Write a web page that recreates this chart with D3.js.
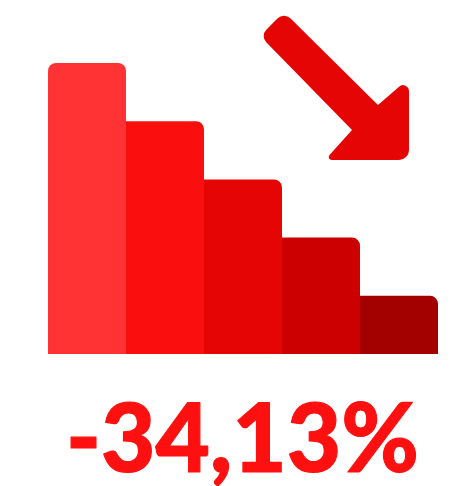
<!DOCTYPE html>
<html lang="pt">
<head>
  <meta charset="UTF-8">
  <title>-34,13%</title>
  <script src="https://d3js.org/d3.v7.min.js"></script>
  <style>
    html, body { margin: 0; padding: 0; background: #fff; overflow: hidden; }
    svg { display: block; }
  </style>
</head>
<body>
  <div id="chart"></div>
  <script>
    // values: five equal steps down
    const categories = ["a", "b", "c", "d", "e"];
    const values = [5, 4, 3, 2, 1];
    const barColors = ["#ff3333", "#fb0e0e", "#e60505", "#cc0000", "#a30000"];
    const label = "-34,13%";

    const width = 458, height = 486;

    const svg = d3.select("#chart").append("svg")
      .attr("width", width)
      .attr("height", height);

    const x = d3.scaleBand().domain(categories).range([48, 438]);
    const y = d3.scaleLinear().domain([0, 5]).range([354, 63]);
    const color = d3.scaleOrdinal().domain(categories).range(barColors);

    // bar with rounded top corners, the left one only on the first bar
    function barPath(cat, v, i) {
      const x0 = x(cat), x1 = x0 + x.bandwidth(), top = y(v), r = 8;
      const p = d3.path();
      p.moveTo(x0, y(0));
      if (i === 0) {
        p.lineTo(x0, top + r);
        p.arcTo(x0, top, x0 + r, top, r);
      } else {
        p.lineTo(x0, top);
      }
      p.lineTo(x1 - r, top);
      p.arcTo(x1, top, x1, top + r, r);
      p.lineTo(x1, y(0));
      p.closePath();
      return p.toString();
    }

    svg.selectAll(".bar")
      .data(categories)
      .enter()
      .append("path")
      .attr("class", "bar")
      .attr("d", (d, i) => barPath(d, values[i], i))
      .attr("fill", d => color(d));

    // arrow, corners go round with the radius given in the third slot
    const arrow = [
      [284, 12, 9], [260, 36, 9], [352, 130, 0], [325, 160, 3],
      [409, 160, 10], [409, 78, 6], [378, 105, 0]
    ];
    const ap = d3.path();
    arrow.forEach((c, i) => {
      const prev = arrow[(i + arrow.length - 1) % arrow.length];
      const next = arrow[(i + 1) % arrow.length];
      if (i === 0) ap.moveTo((prev[0] + c[0]) / 2, (prev[1] + c[1]) / 2);
      ap.arcTo(c[0], c[1], next[0], next[1], c[2]);
      if (c[2] === 0) ap.lineTo(c[0], c[1]);
    });
    ap.closePath();
    svg.append("path")
      .attr("d", ap.toString())
      .attr("fill", "#e60505");

    // thin stroke because the installed bold is lighter than the original
    svg.append("text")
      .attr("x", 66)
      .attr("y", 472)
      .attr("textLength", 353)
      .attr("lengthAdjust", "spacingAndGlyphs")
      .attr("font-family", "Lato, 'Open Sans', sans-serif")
      .attr("font-weight", 900)
      .attr("font-size", 96)
      .attr("fill", "#ff1010")
      .attr("stroke", "#ff1010")
      .attr("stroke-width", 1.2)
      .attr("stroke-linejoin", "round")
      .text(label);
  </script>
</body>
</html>
